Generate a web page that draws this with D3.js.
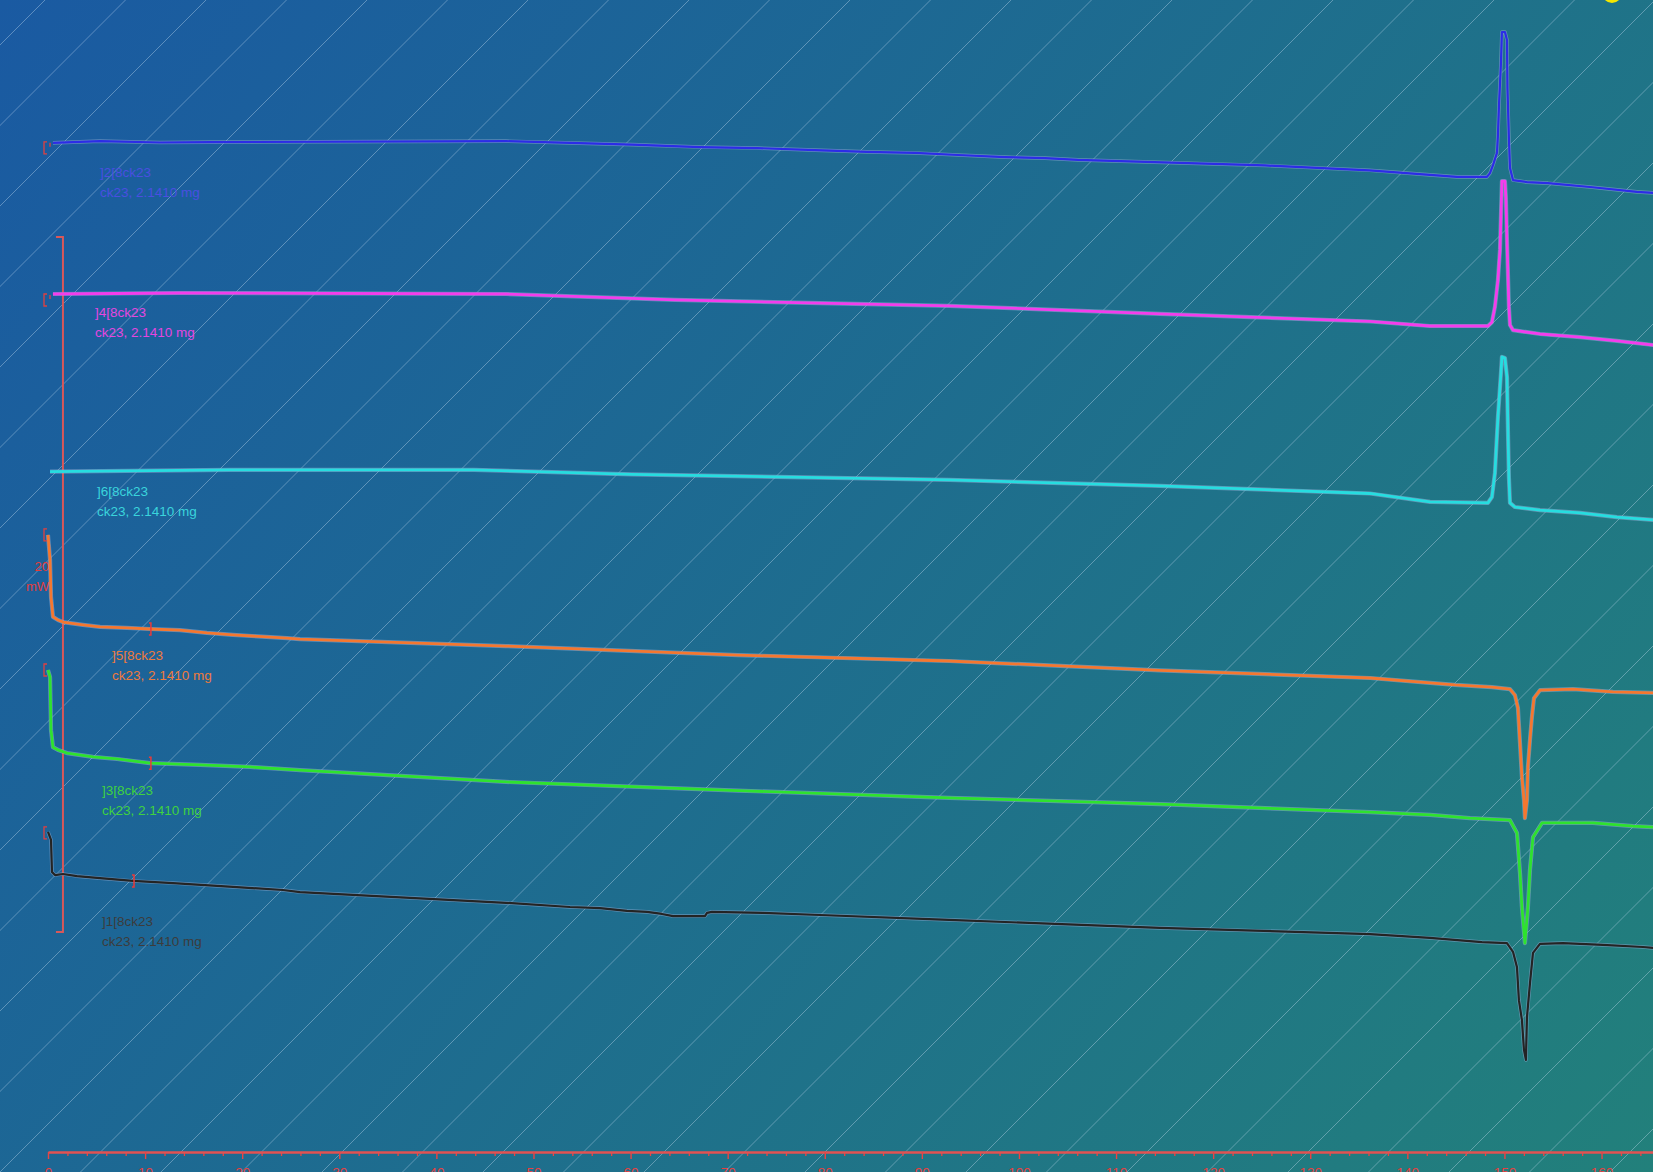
<!DOCTYPE html>
<html><head><meta charset="utf-8">
<script src="https://cdn.jsdelivr.net/npm/d3@7"></script>
<style>html,body{margin:0;padding:0;overflow:hidden;background:#1d6a92}svg{display:block}</style>
</head><body><svg id="c" width="1653" height="1172"></svg>
<script>
// ---------------- DATA ----------------
// x: temperature (°C), y: heat flow (mW, display frame incl. curve offsets)
const majorTicks = [0,10,20,30,40,50,60,70,80,90,100,110,120,130,140,150,160,170];
const minorTicks = d3.range(0, 172, 2).filter(d => d % 10 !== 0);
const curveNames = ["]2[8ck23","]4[8ck23","]6[8ck23","]5[8ck23","]3[8ck23","]1[8ck23"];
const sampleText = "ck23, 2.1410 mg";
const scaleBarMW = [6.33, 26.33];
const scaleBarLabel = ["20","mW"];

const curveBlue = [[0.51,29.04],[5.36,29.09],[11.53,29.05],[16.79,29.06],[47.17,29.09],[60.14,28.99],[67.15,28.92],[73.02,28.89],[78.99,28.83],[84.35,28.78],[89.29,28.75],[93.72,28.69],[98.56,28.63],[102.68,28.60],[106.08,28.55],[125.33,28.39],[136.1,28.25],[142.33,28.12],[145.11,28.06],[148.20,28.06],[148.51,28.17],[148.82,28.40],[149.23,28.75],[149.33,29.27],[149.44,30.13],[149.64,31.34],[149.74,32.23],[150.05,32.23],[150.26,32.00],[150.31,30.62],[150.46,29.18],[150.57,28.32],[150.88,27.97],[152.32,27.91],[154.48,27.88],[158.81,27.77],[163.65,27.63],[165.4,27.60]];
const curveMagenta = [[0.51,24.69],[13.59,24.72],[47.17,24.69],[64.57,24.52],[92.79,24.35],[114.52,24.12],[136.15,23.90],[142.33,23.77],[148.30,23.77],[148.71,23.88],[149.02,24.32],[149.33,25.09],[149.54,25.96],[149.74,27.94],[150.05,27.94],[150.15,27.45],[150.26,26.24],[150.46,24.32],[150.57,23.80],[150.88,23.65],[153.66,23.54],[157.78,23.45],[161.59,23.34],[165.4,23.22]];
const curveCyan = [[0.21,19.58],[18.74,19.63],[43.87,19.63],[60.14,19.50],[92.79,19.34],[114.52,19.17],[136.15,18.95],[142.33,18.71],[148.30,18.68],[148.71,18.85],[149.02,19.54],[149.33,21.15],[149.64,22.42],[149.74,22.88],[150.05,22.85],[150.26,22.30],[150.36,20.78],[150.46,19.42],[150.57,18.68],[151.08,18.56],[153.66,18.47],[157.78,18.39],[161.59,18.27],[165.4,18.19]];
const curveOrange = [[0.0,17.76],[0.21,17.04],[0.31,15.97],[0.51,15.40],[1.03,15.31],[1.54,15.25],[3.60,15.17],[5.36,15.11],[8.14,15.08],[10.50,15.05],[13.59,15.02],[16.37,14.94],[19.05,14.88],[24.61,14.79],[25.95,14.76],[47.17,14.56],[71.06,14.30],[92.79,14.13],[114.52,13.86],[136.15,13.64],[142.33,13.50],[144.90,13.44],[148.71,13.38],[150.57,13.32],[151.08,13.15],[151.39,12.78],[151.60,11.77],[151.80,10.79],[152.01,10.13],[152.11,9.61],[152.32,10.13],[152.42,11.08],[152.63,11.86],[152.83,12.52],[153.04,13.06],[153.66,13.29],[157.06,13.32],[161.17,13.24],[165.4,13.21]];
const curveGreen = [[0.0,13.87],[0.21,13.67],[0.31,12.14],[0.51,11.65],[1.03,11.57],[1.96,11.48],[4.63,11.37],[7.11,11.31],[10.50,11.19],[15.65,11.14],[20.80,11.08],[25.95,10.99],[47.17,10.65],[71.06,10.40],[92.79,10.19],[114.52,10.01],[136.15,9.78],[142.33,9.70],[146.45,9.61],[150.57,9.55],[151.29,9.18],[151.60,8.03],[151.80,7.05],[152.11,6.01],[152.42,7.05],[152.63,8.12],[152.94,9.06],[153.87,9.47],[159.12,9.47],[163.23,9.38],[165.4,9.35]];
const curveBlack = [[0.0,9.21],[0.31,8.98],[0.41,8.06],[0.72,7.97],[1.54,8.00],[2.99,7.94],[5.36,7.88],[8.75,7.80],[12.87,7.74],[19.05,7.63],[24.20,7.54],[25.95,7.48],[47.17,7.17],[53.76,7.05],[56.85,7.02],[59.63,6.94],[61.69,6.91],[63.23,6.85],[64.37,6.79],[67.66,6.79],[67.87,6.88],[68.38,6.91],[73.63,6.88],[79.51,6.82],[92.79,6.68],[114.52,6.45],[136.15,6.27],[142.33,6.16],[147.68,6.04],[150.26,6.01],[150.88,5.76],[151.29,5.32],[151.49,4.37],[151.80,3.80],[152.01,2.94],[152.21,2.65],[152.32,3.88],[152.63,4.86],[152.94,5.73],[153.66,5.99],[156.02,6.01],[160.14,5.96],[164.26,5.90],[165.4,5.87]];
// evaluation-limit ticks (temperature) per curve, null = none
const limitTicks = [null, null, null, 10.6, 10.6, 8.86];

// ---------------- STYLE / LAYOUT ----------------
const W = 1653, H = 1172;
const curves = [curveBlue, curveMagenta, curveCyan, curveOrange, curveGreen, curveBlack];
const lineColors = ["#2c2ce6","#f43cec","#26dde0","#f5772f","#2ee22e","#242424"];
const textColors = ["#4a4fe0","#e546e0","#3ad4dc","#ef7a3c","#3fd23f","#3c3c3c"];
const lineWidths = [2.2,2.8,2.8,2.8,2.8,2.2];
const labelPos = [[100,177],[95,317],[97,496],[112,660],[102,795],[102,926]];
const startMarker = [1,1,0,1,1,1];   // draw "[" marker at start
const markerDy = [5,6,0,0,0,1];

const svg = d3.select("#c");
const defs = svg.append("defs");
const grad = defs.append("linearGradient").attr("id","bg")
  .attr("gradientUnits","userSpaceOnUse").attr("x1",0).attr("y1",0).attr("x2",W).attr("y2",H);
grad.append("stop").attr("offset","0%").attr("stop-color","#1a5aa2");
grad.append("stop").attr("offset","100%").attr("stop-color","#22807b");
svg.append("rect").attr("width",W).attr("height",H).attr("fill","url(#bg)");

// diagonal hatch lines (x + y = const)
const hatch = svg.append("g");
for (let c = 45 - 80.5*2; c < W + H + 80; c += 80.5) {
  hatch.append("line").attr("x1", c).attr("y1", 0).attr("x2", c - H - 10).attr("y2", H + 10)
    .attr("stroke","rgba(205,225,245,0.42)").attr("stroke-width",0.9);
}

// scales
const x = d3.scaleLinear().domain([0, 165.3]).range([48, W]);
const y = d3.scaleLinear().domain([0, 1152/34.75]).range([1152, 0]);

// yellow dot top-right
svg.append("circle").attr("cx",1612).attr("cy",-7).attr("r",10).attr("fill","#f4e600");

// scale bracket
const sbX = x(1.54);
svg.append("path")
  .attr("d", `M${sbX-7},${y(scaleBarMW[1])}H${sbX}V${y(scaleBarMW[0])}H${sbX-7}`)
  .attr("fill","none").attr("stroke","#d8585a").attr("stroke-width",2);
const sbMid = (y(scaleBarMW[0]) + y(scaleBarMW[1]))/2;
svg.append("text").attr("x",49).attr("y",sbMid-14).attr("text-anchor","end")
  .attr("font-family","Liberation Sans, Arial, sans-serif").attr("font-size",13)
  .attr("fill","#e23c3c").text(scaleBarLabel[0]);
svg.append("text").attr("x",49).attr("y",sbMid+6).attr("text-anchor","end")
  .attr("font-family","Liberation Sans, Arial, sans-serif").attr("font-size",13)
  .attr("fill","#e23c3c").text(scaleBarLabel[1]);

// curves
const line = d3.line().x(d => x(d[0])).y(d => y(d[1])).curve(d3.curveLinear);
curves.forEach((data, i) => {
  svg.append("path").attr("d", line(data)).attr("fill","none")
    .attr("stroke","rgba(150,175,215,0.55)").attr("stroke-width", lineWidths[i] + 1.4)
    .attr("stroke-linejoin","round");
  svg.append("path").attr("d", line(data)).attr("fill","none")
    .attr("stroke", lineColors[i]).attr("stroke-width", lineWidths[i])
    .attr("stroke-linejoin","round");
});

// start markers "["
curves.forEach((data, i) => {
  if (!startMarker[i]) return;
  const mx = 44, my = y(data[0][1]) + markerDy[i];
  svg.append("path").attr("d", `M${mx+3},${my-6}H${mx}V${my+6}H${mx+3}`)
    .attr("fill","none").attr("stroke","#e04040").attr("stroke-width",1.3);
  if (i < 2) {
    svg.append("path").attr("d", `M${mx+6},${my-5}V${my-1}`)
      .attr("stroke","#e04040").attr("stroke-width",1.3);
  }
});

// limit ticks "]"
curves.forEach((data, i) => {
  const t = limitTicks[i];
  if (t == null) return;
  const interp = d3.scaleLinear().domain(data.map(d => d[0])).range(data.map(d => d[1]));
  const tx = x(t), ty = y(interp(t));
  svg.append("path").attr("d", `M${tx-2},${ty-6}H${tx}V${ty+6}H${tx-2}`)
    .attr("fill","none").attr("stroke","#e83a3a").attr("stroke-width",1.5);
});

// labels
curves.forEach((data, i) => {
  const [lx, ly] = labelPos[i];
  const g = svg.append("g").attr("font-family","Liberation Sans, Arial, sans-serif")
    .attr("font-size",13.5).attr("fill", textColors[i]);
  g.append("text").attr("x",lx).attr("y",ly).text(curveNames[i]);
  g.append("text").attr("x",lx).attr("y",ly+20).text(sampleText);
});

// x axis
const axisG = svg.append("g").attr("transform","translate(0,1152)");
axisG.append("g").call(d3.axisBottom(x).tickValues(minorTicks).tickSize(4).tickFormat(""))
  .call(g => g.select(".domain").remove())
  .call(g => g.selectAll("line").attr("stroke","#e84545").attr("stroke-width",1.3));
const major = axisG.append("g").call(d3.axisBottom(x).tickValues(majorTicks).tickSize(7).tickSizeOuter(0).tickPadding(8).tickFormat(d3.format("d")));
major.select(".domain").attr("stroke","#e25252").attr("stroke-width",2.4);
major.selectAll("line").attr("stroke","#e84545").attr("stroke-width",1.4);
major.selectAll("text").attr("fill","#e84040").attr("font-size",13.5)
  .attr("font-family","Liberation Sans, Arial, sans-serif");
</script>
</body></html>
